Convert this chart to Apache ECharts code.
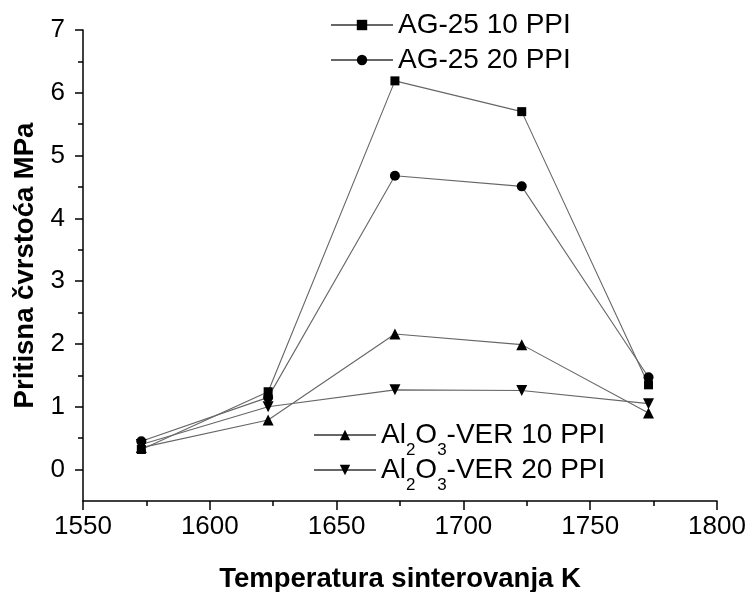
<!DOCTYPE html>
<html>
<head>
<meta charset="utf-8">
<script src="https://cdn.jsdelivr.net/npm/echarts@6/dist/echarts.min.js"></script>
<style>html,body{margin:0;padding:0;background:#fff;}#c{width:753px;height:592px;}</style>
</head>
<body>
<div id="c"></div>
<script>
const temperatures = [1573, 1623, 1673, 1723, 1773];
const seriesNames = ['AG-25 10 PPI', 'AG-25 20 PPI', 'Al2O3-VER 10 PPI', 'Al2O3-VER 20 PPI'];
const ag25_10 = [0.32, 1.24, 6.19, 5.70, 1.35];
const ag25_20 = [0.45, 1.15, 4.68, 4.51, 1.47];
const alver_10 = [0.35, 0.79, 2.16, 1.99, 0.90];
const alver_20 = [0.40, 1.00, 1.27, 1.26, 1.05];
const yTicks = [0, 1, 2, 3, 4, 5, 6, 7];
const yMinorTicks = [0, 0.5, 1, 1.5, 2, 2.5, 3, 3.5, 4, 4.5, 5, 5.5, 6, 6.5, 7];
const xTicks = [1550, 1600, 1650, 1700, 1750, 1800];

const FONT = 'Liberation Sans, Arial, sans-serif';
const lineColor = '#666666';

function pairs(vals) { return temperatures.map((t, i) => [t, vals[i]]); }

function mk(name, vals, symbol, size, rot) {
  return {
    name: name, type: 'line', data: pairs(vals),
    symbol: symbol, symbolSize: size, symbolRotate: rot || 0,
    showAllSymbol: true,
    lineStyle: { color: lineColor, width: 1.1 },
    itemStyle: { color: '#000' },
    z: 3
  };
}

function legendFmt(name) {
  if (name.indexOf('Al2O3') === 0) {
    return '{m|Al}{s|2}{m|O}{s|3}{m|' + name.slice(5) + '}';
  }
  return name;
}

const subRich = {
  m: { fontSize: 28, fontFamily: FONT, color: '#000', lineHeight: 48 },
  s: { fontSize: 17, fontFamily: FONT, color: '#000', verticalAlign: 'bottom' }
};

function legendAt(name, left, top, rich) {
  return {
    data: [name], left: left, top: top, orient: 'vertical', padding: 0,
    itemWidth: 62, itemHeight: 13, selectedMode: false,
    formatter: legendFmt,
    textStyle: rich ? { rich: subRich, fontSize: 28, fontFamily: FONT, color: '#000' }
                    : { fontSize: 28, fontFamily: FONT, color: '#000', lineHeight: 32 }
  };
}

const chart = echarts.init(document.getElementById('c'), null, { renderer: 'canvas' });
chart.setOption({
  backgroundColor: '#fff',
  animation: false,
  grid: { left: 83, right: 36, top: 30, bottom: 91, containLabel: false, outerBoundsMode: 'none' },
  legend: [
    legendAt(seriesNames[0], 330, 9, false),
    legendAt(seriesNames[1], 330, 44, false),
    legendAt(seriesNames[2], 313, 421, true),
    legendAt(seriesNames[3], 313, 456, true)
  ],
  xAxis: {
    type: 'value', min: xTicks[0], max: xTicks[xTicks.length - 1], interval: 50,
    name: 'Temperatura sinterovanja K', nameLocation: 'middle', nameGap: 64,
    nameTextStyle: { fontSize: 27.5, fontWeight: 'bold', fontFamily: FONT, color: '#000' },
    axisLine: { show: true, onZero: false, lineStyle: { color: '#000', width: 1.5 } },
    axisTick: { show: true, inside: false, length: 9, lineStyle: { color: '#000', width: 1.5 } },
    minorTick: { show: true, splitNumber: 2, length: 5, lineStyle: { color: '#000', width: 1.5 } },
    axisLabel: { fontSize: 26, fontFamily: FONT, color: '#000', margin: 13, formatter: v => String(v) },
    splitLine: { show: false }
  },
  yAxis: [
    {
      type: 'value', min: -0.5, max: 7,
      name: 'Pritisna čvrstoća MPa', nameLocation: 'middle', nameGap: 36,
      nameTextStyle: { fontSize: 27.5, fontWeight: 'bold', fontFamily: FONT, color: '#000' },
      axisLine: { show: true, onZero: false, lineStyle: { color: '#000', width: 1.5 } },
      axisTick: { show: true, inside: false, length: 8, customValues: yTicks, lineStyle: { color: '#000', width: 1.5 } },
      axisLabel: { fontSize: 26, fontFamily: FONT, color: '#000', margin: 18, customValues: yTicks },
      splitLine: { show: false }
    },
    {
      type: 'value', min: -0.5, max: 7, position: 'left',
      axisLine: { show: false, onZero: false },
      axisTick: { show: true, inside: false, length: 5, customValues: yMinorTicks, lineStyle: { color: '#000', width: 1.5 } },
      axisLabel: { show: false },
      splitLine: { show: false }
    }
  ],
  series: [
    mk(seriesNames[0], ag25_10, 'rect', 9),
    mk(seriesNames[1], ag25_20, 'circle', 10),
    mk(seriesNames[2], alver_10, 'triangle', 11, 0),
    mk(seriesNames[3], alver_20, 'triangle', 11, 180)
  ]
});
</script>
</body>
</html>
